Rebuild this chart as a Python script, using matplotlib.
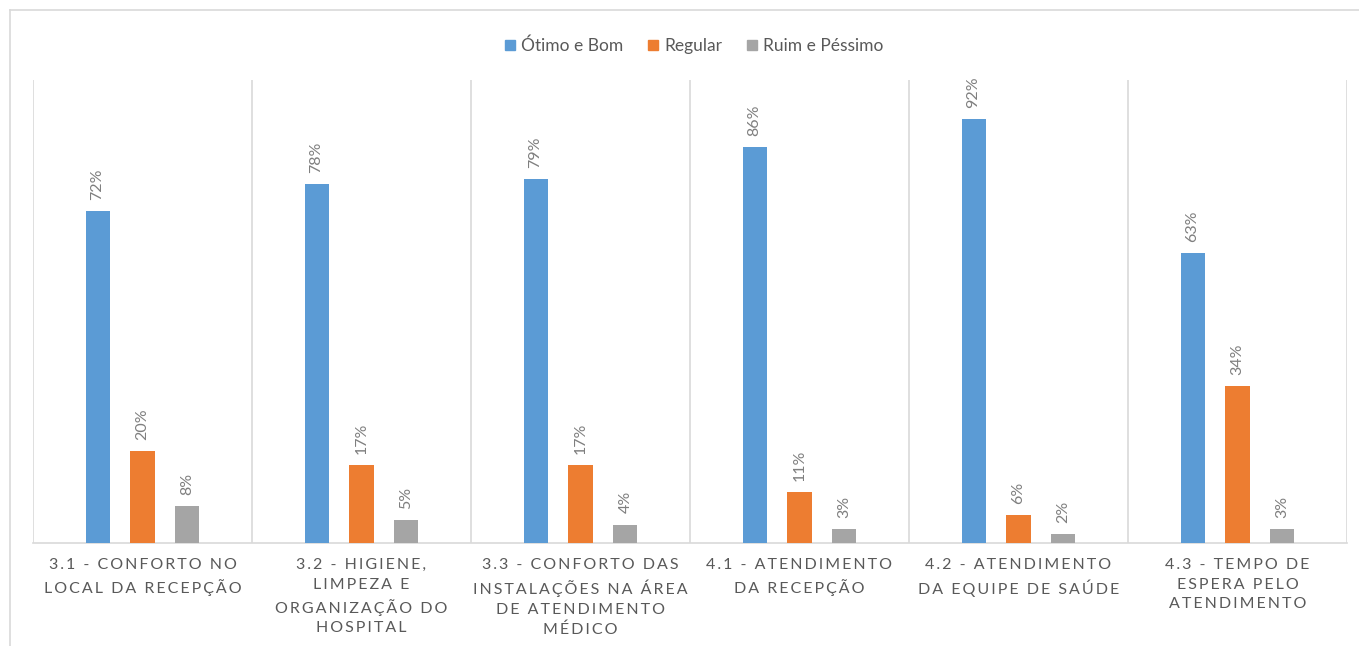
import matplotlib
matplotlib.use("Agg")
import matplotlib.pyplot as plt
from matplotlib.lines import Line2D
import numpy as np

plt.rcParams['font.family'] = ['Lato', 'DejaVu Sans']

categories = [
    "3.1 - CONFORTO NO\nLOCAL DA RECEPÇÃO",
    "3.2 - HIGIENE,\nLIMPEZA E\nORGANIZAÇÃO DO\nHOSPITAL",
    "3.3 - CONFORTO DAS\nINSTALAÇÕES NA ÁREA\nDE ATENDIMENTO\nMÉDICO",
    "4.1 - ATENDIMENTO\nDA RECEPÇÃO",
    "4.2 - ATENDIMENTO\nDA EQUIPE DE SAÚDE",
    "4.3 - TEMPO DE\nESPERA PELO\nATENDIMENTO",
]
series_names = ["Ótimo e Bom", "Regular", "Ruim e Péssimo"]
otimo_bom = [72, 78, 79, 86, 92, 63]
regular = [20, 17, 17, 11, 6, 34]
ruim_pessimo = [8, 5, 4, 3, 2, 3]

colors = ["#5B9BD5", "#ED7D31", "#A5A5A5"]
grid_color = "#D9D9D9"
text_color = "#595959"


def tracked(label, gap="\u200a" * 2):
    """Widen the letter spacing of a (multi-line) label with hair spaces."""
    return "\n".join(gap.join(line) for line in label.split("\n"))


fig = plt.figure(figsize=(13.59, 6.46), dpi=100)
ax = fig.add_axes([33 / 1359, 103 / 646, 1314 / 1359, 463 / 646])

x = np.arange(len(categories))
offsets = [-0.205, 0.0, 0.205]
width = 0.11
for vals, off, col, name in zip([otimo_bom, regular, ruim_pessimo], offsets, colors, series_names):
    bars = ax.bar(x + off, vals, width=width, color=col, label=name, zorder=3)
    for b, v in zip(bars, vals):
        ax.annotate(f"{v}%", (b.get_x() + b.get_width() / 2, v),
                    xytext=(0, 8), textcoords="offset points",
                    rotation=90, ha="center", va="bottom",
                    fontsize=11.5, color="#7F7F7F")

ax.set_xlim(-0.5, len(categories) - 0.5)
ax.set_ylim(0, 100.5)
ax.set_yticks([])
ax.set_xticks(x)
ax.set_xticklabels([tracked(c) for c in categories], fontsize=11.5,
                   color=text_color, linespacing=1.5)
ax.tick_params(axis="x", length=0, pad=11)

# category separators
for sep in np.arange(-0.5, len(categories), 1.0):
    ax.axvline(sep, color=grid_color, lw=1.2, zorder=1)

for side in ["top", "right", "left"]:
    ax.spines[side].set_visible(False)
ax.spines["bottom"].set_color(grid_color)
ax.spines["bottom"].set_linewidth(1.2)

# outer chart frame
fig.add_artist(Line2D([10 / 1359, 1], [1 - 10 / 646, 1 - 10 / 646], color=grid_color, lw=1.2))
fig.add_artist(Line2D([10 / 1359, 10 / 1359], [0, 1 - 10 / 646], color=grid_color, lw=1.2))

handles = [Line2D([], [], marker="s", linestyle="none", markersize=7, color=c) for c in colors]
fig.legend(handles, series_names, loc="center", bbox_to_anchor=(694 / 1359, 1 - 46 / 646),
           ncol=3, frameon=False, fontsize=12.5, handlelength=0.6, handletextpad=0.35,
           columnspacing=1.4, labelcolor=text_color)

fig.savefig("out.png", dpi=100, facecolor="white")
